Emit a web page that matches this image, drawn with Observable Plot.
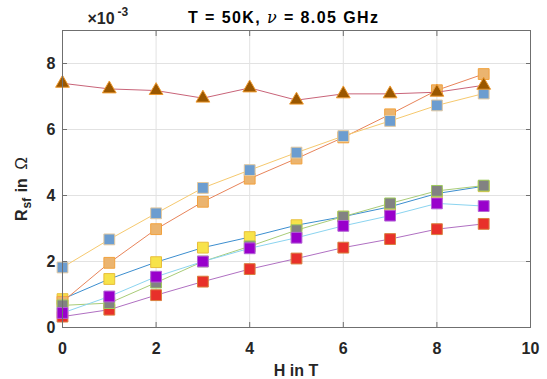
<!DOCTYPE html>
<html><head><meta charset="utf-8">
<script src="https://cdn.jsdelivr.net/npm/d3@7"></script>
<script src="https://cdn.jsdelivr.net/npm/@observablehq/plot@0.6"></script>
<style>body{margin:0;background:#fff} svg{display:block}</style>
</head><body><div id="chart"></div>
<script>
// Field H in T
const H = [0, 1, 2, 3, 4, 5, 6, 7, 8, 9];
// R_sf values in units of 1e-3 Ohm
const triangleSeries = [7.40, 7.23, 7.18, 6.95, 7.26, 6.89, 7.08, 7.08, 7.13, 7.34];
const orangeSeries   = [0.78, 1.96, 2.98, 3.81, 4.51, 5.12, 5.76, 6.46, 7.19, 7.68];
const blueSeries     = [1.82, 2.67, 3.46, 4.23, 4.77, 5.30, 5.80, 6.26, 6.73, 7.09];
const yellowSeries   = [0.86, 1.47, 1.98, 2.42, 2.74, 3.10, 3.36, 3.66, 4.06, 4.28];
const graySeries     = [0.67, 0.74, 1.36, 2.00, 2.46, 2.95, 3.36, 3.76, 4.14, 4.30];
const purpleSeries   = [0.44, 0.94, 1.54, 2.00, 2.40, 2.72, 3.08, 3.39, 3.76, 3.68];
const redSeries      = [0.33, 0.54, 0.98, 1.39, 1.77, 2.09, 2.42, 2.68, 2.98, 3.14];
const xTicks = [0, 2, 4, 6, 8, 10];
const yTicks = [0, 2, 4, 6, 8];
const exponentBase = "×10";
const exponentPower = "-3";

const styles = [
  {values: redSeries,      symbol: "square",   fill: "#E8302A", stroke: "#D9803F", line: "#B070C2"},
  {values: yellowSeries,   symbol: "square",   fill: "#F7E34A", stroke: "#E8BE3A", line: "#3C8ECF"},
  {values: orangeSeries,   symbol: "square",   fill: "#EBB46F", stroke: "#F2A23E", line: "#E8845A"},
  {values: blueSeries,     symbol: "square",   fill: "#6C9DD0", stroke: "#E3C9A0", line: "#F6C96E"},
  {values: triangleSeries, symbol: "triangle", fill: "#9A5700", stroke: "#EE9A30", line: "#C96479"},
  {values: graySeries,     symbol: "square",   fill: "#828282", stroke: "#9FCB5E", line: "#A9CC78"},
  {values: purpleSeries,   symbol: "square",   fill: "#9900CC", stroke: "#B464D6", line: "#8BD4F0"}
];

const seriesMarks = styles.flatMap(s => {
  const rows = H.map((h, i) => ({H: h, R: s.values[i]}));
  return [
    Plot.line(rows, {x: "H", y: "R", stroke: s.line, strokeWidth: 1}),
    Plot.dot(rows, {x: "H", y: "R", symbol: s.symbol, r: s.symbol === "square" ? 6.1 : 5.1,
      fill: s.fill, stroke: s.stroke, strokeWidth: 1})
  ];
});

const axisColor = "#6f6f6f";
const svg = Plot.plot({
  width: 547, height: 379,
  marginTop: 30, marginLeft: 62, marginRight: 17, marginBottom: 52,
  x: {domain: [0, 10]},
  y: {domain: [0, 9]},
  style: {fontFamily: "'Liberation Sans', Arial, sans-serif", fontSize: "16px", fontWeight: "bold", color: "#262626", background: "#fff"},
  marks: [
    Plot.gridX(xTicks, {stroke: "#e2e2e2", strokeOpacity: 1}),
    Plot.gridY(yTicks, {stroke: "#e2e2e2", strokeOpacity: 1}),
    ...seriesMarks,
    Plot.frame({stroke: axisColor}),
    Plot.axisX(xTicks, {anchor: "bottom", tickSize: -5, tickFormat: () => "", label: null, stroke: axisColor}),
    Plot.axisX(xTicks, {anchor: "top", tickSize: -5, tickFormat: () => "", label: null, stroke: axisColor}),
    Plot.axisY(yTicks, {anchor: "left", tickSize: -5, tickFormat: () => "", label: null, stroke: axisColor}),
    Plot.axisY(yTicks, {anchor: "right", tickSize: -5, tickFormat: () => "", label: null, stroke: axisColor}),
    Plot.axisX(xTicks, {anchor: "bottom", tickSize: 0, tickPadding: 15, label: null, fill: "#262626"}),
    Plot.axisY(yTicks, {anchor: "left", tickSize: 0, tickPadding: 7, label: null, fill: "#262626"}),
    Plot.text([exponentBase], {frameAnchor: "top-left", text: d => d, textAnchor: "start", lineAnchor: "bottom",
      dx: 25, dy: -7, fontSize: 16, fontWeight: "bold", fill: "#262626"}),
    Plot.text([exponentPower], {frameAnchor: "top-left", text: d => d, textAnchor: "start", lineAnchor: "bottom",
      dx: 55, dy: -15, fontSize: 12, fontWeight: "bold", fill: "#262626"})
  ]
});
document.getElementById("chart").appendChild(svg);

const s = d3.select(svg);
const font = "'Liberation Sans', Arial, sans-serif";
// Title
const title = s.append("text").attr("x", 283).attr("y", 23).attr("text-anchor", "middle")
  .attr("font-family", font).attr("font-size", 16).attr("font-weight", "bold").attr("fill", "#000")
  .attr("textLength", 190).attr("lengthAdjust", "spacing");
title.append("tspan").text("T = 50K, ");
title.append("tspan").attr("font-family", "'DejaVu Serif', serif").attr("font-style", "italic").attr("font-weight", "normal").text("ν");
title.append("tspan").text(" = 8.05 GHz");
// Y label
const yl = s.append("text").attr("transform", "translate(27,221) rotate(-90)").attr("text-anchor", "start")
  .attr("font-family", font).attr("font-size", 16).attr("font-weight", "bold").attr("fill", "#262626");
yl.append("tspan").text("R");
yl.append("tspan").attr("font-size", 12).attr("dy", 4).attr("dx", 1).text("sf");
yl.append("tspan").attr("dy", -4).attr("dx", 1).text(" in ");
yl.append("tspan").attr("dx", 4).attr("font-weight", "normal").attr("font-size", 17).text("Ω");
// X label
s.append("text").attr("x", 296).attr("y", 376).attr("text-anchor", "middle")
  .attr("font-family", font).attr("font-size", 16).attr("font-weight", "bold").attr("fill", "#262626").text("H in T");
</script>
</body></html>
